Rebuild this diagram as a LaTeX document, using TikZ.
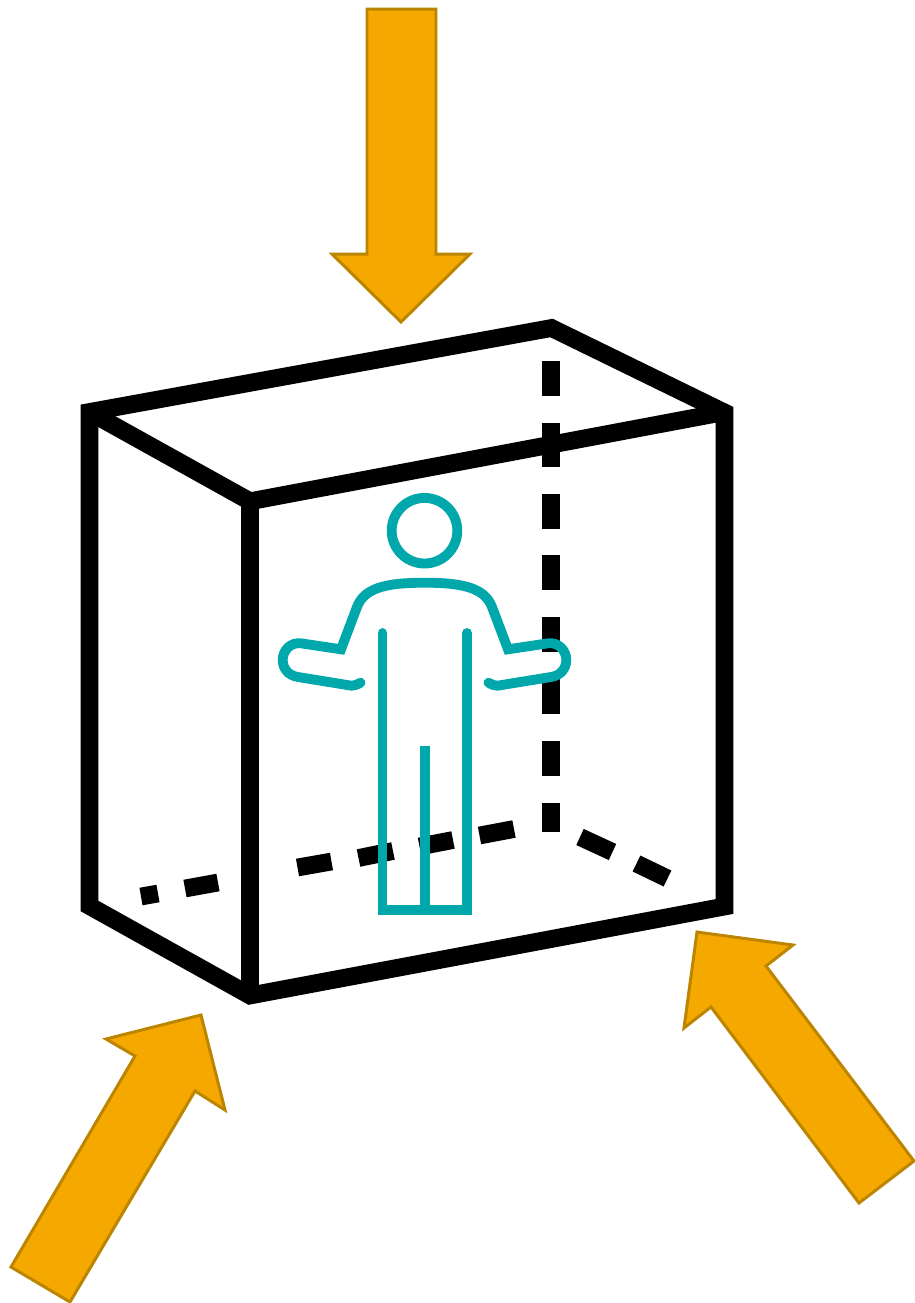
\documentclass[tikz,border=0pt]{standalone}
\usepackage{xcolor}
\usepackage{tikz}

\definecolor{flowfill}{HTML}{F5A800}
\definecolor{flowedge}{HTML}{BC8500}
\definecolor{figteal}{HTML}{00A7AB}

\tikzset{
    boxline/.style={line width=10.1pt, black, miter limit=10},
    dashline/.style={line width=10.1pt, black},
    figline/.style={line width=5.6pt, figteal},
    flowarrow/.style={fill=flowfill, draw=flowedge, line width=1.7pt, miter limit=10}
}

\begin{document}
\begin{tikzpicture}[x=0.02cm, y=-0.02cm]

    \useasboundingbox (0,0) rectangle (915,1303);

    % =================================================================
    % 1. HIDDEN EDGES OF THE BOX
    % =================================================================
    % Vertical hidden edge
    \foreach \ya/\yb in {361/396, 423/467, 494/529, 555/590, 617/652, 679/714, 741/776, 803/832}
        \draw[dashline] (551,\ya) -- (551,\yb);

    % Floor, left part
    \draw[dashline] (141,896.5) -- (158,893.5);
    \draw[dashline] (185,888.5) -- (218,882.5);
    \draw[dashline] (297.5,867.5) -- (331.5,861.5);
    \draw[dashline] (358.5,858) -- (393,851);
    \draw[dashline] (419.5,846.5) -- (453,840);
    \draw[dashline] (479.5,835.5) -- (514,829);

    % Floor, right part
    \draw[dashline] (580,837) -- (612.5,852);
    \draw[dashline] (636.5,863.5) -- (667.5,878.5);

    % =================================================================
    % 2. VISIBLE EDGES OF THE BOX
    % =================================================================
    \draw[boxline] (89.5,412) -- (551.5,328) -- (724.5,412.5) -- (724.5,906.5)
        -- (250,995.5) -- (89.5,906) -- cycle;
    \draw[boxline] (89.5,412) -- (250,501.3) -- (724.5,412);
    \draw[boxline] (250,501.3) -- (250,995.5);

    % =================================================================
    % 3. PERSON
    % =================================================================
    % Head
    \draw[figline] (424.5,530.7) circle (32.8);

    % Arms and shoulders
    \draw[figline, line cap=round] (360.5,682.7)
        .. controls (357,684.7) and (354,685.7) .. (351.5,685.7)
        -- (298,677)
        .. controls (288,675.5) and (282.7,668) .. (282.7,660)
        .. controls (282.7,650) and (291,642) .. (301,643.3)
        -- (341,649.3) -- (357,607)
        .. controls (364,589) and (383,582.7) .. (424.5,582.7)
        .. controls (466,582.7) and (485,589) .. (492,607)
        -- (508,649.3) -- (548,643.3)
        .. controls (558,642) and (566.3,650) .. (566.3,660)
        .. controls (566.3,668) and (561,675.5) .. (551,677)
        -- (497.5,685.7)
        .. controls (495,685.7) and (492,684.7) .. (488.5,682.7);

    % Legs
    \draw[figline, line cap=round] (382.5,633) -- (382.5,910);
    \draw[figline, line cap=round] (466.8,633) -- (466.8,910);
    \draw[figline, line cap=rect] (382.5,910) -- (466.8,910);
    \draw[figline] (424.7,746) -- (424.7,910);

    % =================================================================
    % 4. ARROWS
    % =================================================================
    % From above
    \draw[flowarrow] (367,9) -- (436,9) -- (436,254) -- (470,254) -- (401,322)
        -- (332,254) -- (367,254) -- cycle;

    % From lower left
    \draw[flowarrow] (11,1267) -- (135,1056) -- (106,1039) -- (201,1015) -- (225,1110)
        -- (195,1091) -- (70,1302) -- cycle;

    % From lower right
    \draw[flowarrow] (914,1161) -- (766,966) -- (793,945) -- (697,932) -- (684,1028)
        -- (711,1007) -- (859,1203) -- cycle;

\end{tikzpicture}
\end{document}
